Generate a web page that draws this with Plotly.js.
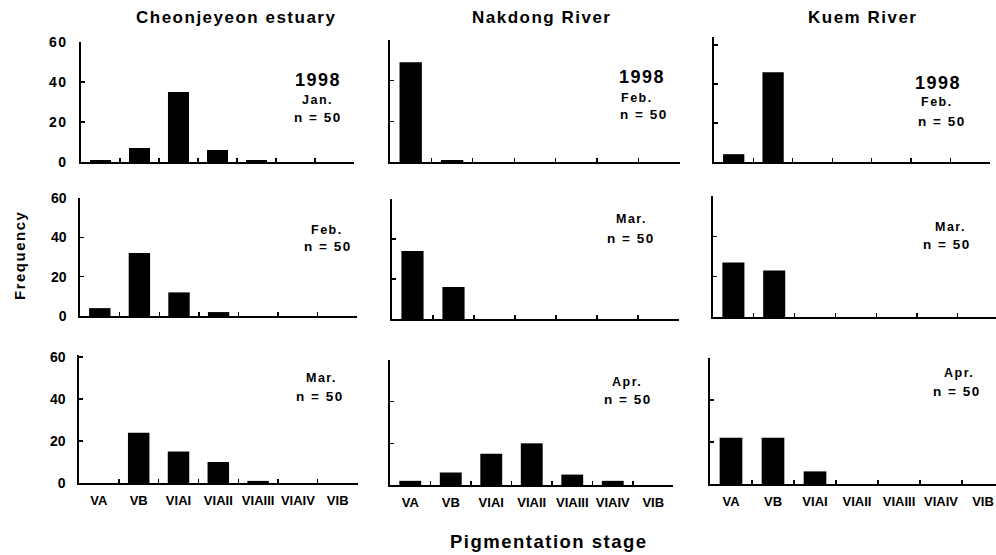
<!DOCTYPE html>
<html>
<head>
<meta charset="utf-8">
<script src="https://cdn.plot.ly/plotly-3.0.1.min.js"></script>
<style>
  html, body { margin: 0; padding: 0; background: #fff; overflow: hidden; }
  #chart { width: 996px; height: 555px; }
  .annotation-text { letter-spacing: 1.5px; }
  .ytick text { letter-spacing: 1.5px; }
</style>
</head>
<body>
<div id="chart"></div>
<script>
// Pigmentation stages on the x axis
const stages = ['VA', 'VB', 'VIAI', 'VIAII', 'VIAIII', 'VIAIV', 'VIB'];
const sites = ['Cheonjeyeon estuary', 'Nakdong River', 'Kuem River'];
const year = '1998';
const yTicks = [0, 20, 40, 60];

// Frequency of glass eels at each stage (n = 50 per sample)
const cheonjeyeonJan = [1, 7, 35, 6, 1, 0, 0];
const cheonjeyeonFeb = [4, 32, 12, 2, 0, 0, 0];
const cheonjeyeonMar = [0, 24, 15, 10, 1, 0, 0];
const nakdongFeb = [49, 1, 0, 0, 0, 0, 0];
const nakdongMar = [34, 16, 0, 0, 0, 0, 0];
const nakdongApr = [2, 6, 15, 20, 5, 2, 0];
const kuemFeb = [4, 46, 0, 0, 0, 0, 0];
const kuemMar = [27, 23, 0, 0, 0, 0, 0];
const kuemApr = [22, 22, 6, 0, 0, 0, 0];

// row-major order: rows = sampling occasion, columns = site
const panelValues = [
  cheonjeyeonJan, nakdongFeb, kuemFeb,
  cheonjeyeonFeb, nakdongMar, kuemMar,
  cheonjeyeonMar, nakdongApr, kuemApr
];
const panelMonths = ['Jan.', 'Feb.', 'Feb.', 'Feb.', 'Mar.', 'Mar.', 'Mar.', 'Apr.', 'Apr.'];
const panelN = [50, 50, 50, 50, 50, 50, 50, 50, 50];

// ---- geometry (pixels) ----
const W = 996, H = 555;
// x0/x1: axis extent, step: width of one category, base/top: y axis extent, ymax: value at top
const frames = [
  { x0: 81,  x1: 354, step: 39.0, base: 162, top: 42,  ymax: 60 },
  { x0: 390, x1: 680, step: 41.4, base: 162, top: 40,  ymax: 60 },
  { x0: 714, x1: 990, step: 39.4, base: 162, top: 37,  ymax: 64 },
  { x0: 80,  x1: 357, step: 39.6, base: 316, top: 198, ymax: 60 },
  { x0: 392, x1: 679, step: 41.0, base: 319, top: 199, ymax: 60 },
  { x0: 713, x1: 996, step: 40.8, base: 317, top: 196, ymax: 60 },
  { x0: 79,  x1: 358, step: 39.8, base: 483, top: 355, ymax: 61 },
  { x0: 390, x1: 673, step: 40.5, base: 485, top: 360, ymax: 60 },
  { x0: 710, x1: 996, step: 42.0, base: 484, top: 358, ymax: 60 }
];
// label block centres: [year, month, n]
const labelPos = [
  { yr: [318, 80], mo: [317, 100], n: [318, 117] },
  { yr: [642, 77], mo: [637, 98],  n: [644, 114] },
  { yr: [938, 83], mo: [937, 102], n: [942, 121] },
  { mo: [327, 230], n: [328, 246] },
  { mo: [631, 219], n: [631, 238] },
  { mo: [950, 227], n: [947, 245] },
  { mo: [321, 378], n: [320, 396] },
  { mo: [627, 382], n: [628, 399] },
  { mo: [959, 373], n: [957, 391] }
];
const titlePos = [[236, 17], [541, 17], [862, 17]];

const FONT = 'Liberation Sans, Arial, Helvetica, sans-serif';
const px = x => x / W;
const py = y => 1 - y / H;

const traces = [];
const layout = {
  width: W, height: H,
  margin: { l: 0, r: 0, t: 0, b: 0, pad: 0 },
  paper_bgcolor: '#fff', plot_bgcolor: 'rgba(0,0,0,0)',
  showlegend: false,
  bargap: 0.46,
  font: { family: FONT, color: '#000', size: 13, weight: 'bold' },
  annotations: []
};

function note(text, x, y, size, extra) {
  layout.annotations.push(Object.assign({
    text: '<b>' + text + '</b>', xref: 'paper', yref: 'paper',
    x: px(x), y: py(y), xanchor: 'center', yanchor: 'middle',
    showarrow: false, font: { family: FONT, size: size, color: '#000', weight: 'bold' }
  }, extra || {}));
}

frames.forEach((f, i) => {
  const id = i === 0 ? '' : String(i + 1);
  const row = Math.floor(i / 3), col = i % 3;
  const xEnd = -0.5 + (f.x1 - f.x0) / f.step;

  traces.push({
    type: 'bar', x: stages, y: panelValues[i],
    xaxis: 'x' + id, yaxis: 'y' + id,
    marker: { color: '#000', line: { width: 0 } },
    hoverinfo: 'skip'
  });

  layout['xaxis' + id] = {
    domain: [px(f.x0), px(f.x1)], anchor: 'y' + id,
    type: 'category', categoryorder: 'array', categoryarray: stages,
    range: [-0.5, xEnd],
    showline: true, linecolor: '#000', linewidth: 1.6,
    ticks: 'inside', tickson: 'boundaries', ticklen: 4, tickwidth: 1.4, tickcolor: '#000',
    showgrid: false, zeroline: false,
    showticklabels: row === 2, tickangle: 0, ticklabelstandoff: 5,
    tickfont: { family: FONT, size: 13, color: '#000', weight: 'bold' },
    fixedrange: true
  };
  layout['yaxis' + id] = {
    domain: [py(f.base), py(f.top)], anchor: 'x' + id,
    range: [0, f.ymax], tickvals: yTicks,
    showline: true, linecolor: '#000', linewidth: 1.6,
    ticks: 'inside', ticklen: 4, tickwidth: 1.4, tickcolor: '#000',
    showgrid: false, zeroline: false,
    showticklabels: col === 0, ticklabelstandoff: 9,
    tickfont: { family: FONT, size: 14, color: '#000', weight: 'bold' },
    fixedrange: true
  };

  const lp = labelPos[i];
  if (lp.yr) note(year, lp.yr[0], lp.yr[1], 18);
  note(panelMonths[i], lp.mo[0], lp.mo[1], 12.5);
  note('n = ' + panelN[i], lp.n[0], lp.n[1], 13.5);
});

sites.forEach((s, c) => note(s, titlePos[c][0], titlePos[c][1], 17));
note('Frequency', 20, 256, 15, { textangle: -90 });
note('Pigmentation stage', 549, 541, 18.5);

Plotly.newPlot('chart', traces, layout, { staticPlot: true, displayModeBar: false });
</script>
</body>
</html>
